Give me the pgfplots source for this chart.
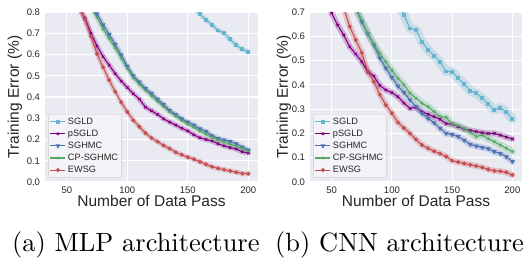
\documentclass[border=0pt]{standalone}
\usepackage{fontspec}
\setsansfont{Liberation Sans}
\newfontfamily\capfont{lmroman10-regular}[Extension=.otf]
\usepackage{pgfplots}
\pgfplotsset{compat=1.18}
\usepackage{pgfplotstable}

\definecolor{cSGLD}{HTML}{64B5CD}
\definecolor{cPSGLD}{HTML}{800080}
\definecolor{cSGHMC}{HTML}{4C72B0}
\definecolor{cCP}{HTML}{55A868}
\definecolor{cEW}{HTML}{C44E52}
\definecolor{bg}{HTML}{EAEAF2}

\pgfplotstableread{
x sgld psgld sghmc cp ewsg
40 1.80 1.20 1.50 1.45 1.25
45 1.70 1.07 1.35 1.30 1.12
50 1.60 0.97 1.20 1.17 1.00
55 1.52 0.88 1.08 1.06 0.90
60 1.45 0.82 0.98 0.96 0.83
65 1.38 0.77 0.90 0.88 0.765
70 1.32 0.70 0.84 0.82 0.685
75 1.26 0.64 0.79 0.775 0.603
80 1.21 0.59 0.74 0.72 0.54
85 1.16 0.55 0.695 0.675 0.48
90 1.12 0.51 0.648 0.63 0.425
95 1.08 0.475 0.598 0.583 0.375
100 1.04 0.445 0.545 0.535 0.33
105 1.01 0.415 0.50 0.49 0.29
110 0.98 0.39 0.47 0.46 0.26
115 0.955 0.352 0.44 0.432 0.23
120 0.935 0.335 0.417 0.405 0.207
125 0.915 0.318 0.39 0.38 0.19
130 0.905 0.297 0.365 0.355 0.172
135 0.893 0.282 0.336 0.33 0.157
140 0.88 0.268 0.318 0.31 0.14
145 0.86 0.253 0.298 0.29 0.128
150 0.84 0.24 0.282 0.272 0.117
155 0.817 0.222 0.268 0.257 0.107
160 0.79 0.208 0.25 0.24 0.095
165 0.763 0.20 0.238 0.225 0.083
170 0.74 0.193 0.218 0.21 0.072
175 0.713 0.18 0.205 0.198 0.064
180 0.70 0.17 0.198 0.188 0.058
185 0.671 0.162 0.19 0.178 0.052
190 0.644 0.155 0.18 0.168 0.046
195 0.624 0.142 0.165 0.158 0.04
200 0.613 0.136 0.15 0.146 0.039
}\mlp

\pgfplotstableread{
x sgld psgld sghmc cp ewsg
40 1.60 0.82 1.00 1.00 0.90
45 1.50 0.75 0.92 0.93 0.84
50 1.42 0.695 0.86 0.87 0.79
55 1.34 0.646 0.81 0.82 0.75
60 1.26 0.605 0.77 0.78 0.715
65 1.18 0.557 0.74 0.75 0.64
70 1.10 0.527 0.715 0.72 0.585
75 1.03 0.495 0.66 0.665 0.532
80 0.97 0.455 0.61 0.612 0.454
85 0.91 0.436 0.565 0.568 0.413
90 0.86 0.397 0.51 0.53 0.36
95 0.81 0.379 0.468 0.495 0.317
100 0.77 0.368 0.43 0.46 0.283
105 0.73 0.351 0.395 0.427 0.245
110 0.688 0.325 0.368 0.40 0.222
115 0.632 0.303 0.338 0.366 0.20
120 0.627 0.307 0.31 0.345 0.175
125 0.578 0.289 0.283 0.324 0.152
130 0.543 0.279 0.262 0.31 0.139
135 0.52 0.269 0.244 0.29 0.127
140 0.493 0.258 0.221 0.27 0.117
145 0.455 0.24 0.20 0.266 0.105
150 0.454 0.238 0.195 0.238 0.088
155 0.427 0.228 0.187 0.232 0.082
160 0.403 0.218 0.172 0.22 0.076
165 0.375 0.212 0.155 0.205 0.071
170 0.365 0.208 0.148 0.187 0.066
175 0.345 0.203 0.142 0.193 0.06
180 0.321 0.20 0.137 0.178 0.052
185 0.296 0.20 0.125 0.166 0.046
190 0.306 0.193 0.117 0.152 0.044
195 0.289 0.185 0.104 0.139 0.04
200 0.259 0.177 0.084 0.125 0.029
}\cnn

\pgfplotsset{
  myax/.style={
    scale only axis, height=170bp,
    xmin=32, xmax=208, ymin=0,
    axis background/.style={fill=bg},
    axis line style={draw=none},
    major tick length=0pt,
    grid=major, grid style={white, line width=1.1bp},
    xtick={50,100,150,200},
    ytick distance=0.1,
    /pgf/number format/assume math mode=true,
    tick label style={font=\fontsize{9.5bp}{11bp}\sffamily, text=black!85},
    xticklabel style={yshift=-1bp},
    yticklabel style={xshift=-1.5bp, /pgf/number format/.cd, fixed, fixed zerofill, precision=1},
    xlabel={Number of Data Pass}, ylabel={Training Error (\%)},
    label style={font=\fontsize{15.5bp}{18bp}\sffamily, text=black!85},
    xlabel style={at={(axis description cs:0.5,0)}, anchor=north, inner sep=0pt, yshift=-13.5bp},
    legend style={at={(0.015,0.025)}, anchor=south west, fill=bg!50!white, draw=black!20,
      rounded corners=2bp, font=\fontsize{9.2bp}{10bp}\sffamily, text=black!85,
      inner sep=1.5bp, row sep=0.2bp},
    legend cell align=left,
    legend image code/.code={\draw[mark repeat=2,mark phase=2,##1] plot coordinates {(0bp,0bp) (7.5bp,0bp) (15bp,0bp)};},
    every axis plot/.append style={line width=1.1bp},
  },
  band/.style={line width=#1, opacity=0.25, line join=round, line cap=round, forget plot, mark=none},
  band/.default=5bp,
  mS/.style={mark=square*, mark size=1.4bp},
  mP/.style={mark=x, mark size=1.7bp, mark options={line width=1bp}},
  mH/.style={mark=triangle*, mark size=1.7bp, mark options={rotate=180}},
  mC/.style={mark=*, mark size=0.9bp},
  mE/.style={mark=*, mark size=1.4bp},
}

\begin{document}
\begin{tikzpicture}
\path[use as bounding box] (0,0) rectangle (525bp,259bp);

\begin{axis}[myax, at={(45bp,77bp)}, anchor=south west, width=213bp, ymax=0.8,
  ylabel style={at={(axis description cs:-0.141,0.5)}, anchor=center}]
\addplot[cSGLD, band] table[x=x,y=sgld] {\mlp};
\addplot[cPSGLD, band] table[x=x,y=psgld] {\mlp};
\addplot[cSGHMC, band] table[x=x,y=sghmc] {\mlp};
\addplot[cCP, band] table[x=x,y=cp] {\mlp};
\addplot[cEW, band] table[x=x,y=ewsg] {\mlp};
\addplot[cSGLD, mS] table[x=x,y=sgld] {\mlp}; \addlegendentry{SGLD}
\addplot[cPSGLD, mP] table[x=x,y=psgld] {\mlp}; \addlegendentry{pSGLD}
\addplot[cSGHMC, mH] table[x=x,y=sghmc] {\mlp}; \addlegendentry{SGHMC}
\addplot[cCP, mC] table[x=x,y=cp] {\mlp}; \addlegendentry{CP-SGHMC}
\addplot[cEW, mE] table[x=x,y=ewsg] {\mlp}; \addlegendentry{EWSG}
\end{axis}

\begin{axis}[myax, at={(310bp,77bp)}, anchor=south west, width=212bp, ymax=0.7,
  ylabel style={at={(axis description cs:-0.123,0.5)}, anchor=center}]
\addplot[cSGLD, band=9bp] table[x=x,y=sgld] {\cnn};
\addplot[cPSGLD, band=6bp] table[x=x,y=psgld] {\cnn};
\addplot[cSGHMC, band=6bp] table[x=x,y=sghmc] {\cnn};
\addplot[cCP, band=7bp] table[x=x,y=cp] {\cnn};
\addplot[cEW, band=6bp] table[x=x,y=ewsg] {\cnn};
\addplot[cSGLD, mS] table[x=x,y=sgld] {\cnn}; \addlegendentry{SGLD}
\addplot[cPSGLD, mP] table[x=x,y=psgld] {\cnn}; \addlegendentry{pSGLD}
\addplot[cSGHMC, mH] table[x=x,y=sghmc] {\cnn}; \addlegendentry{SGHMC}
\addplot[cCP, mC] table[x=x,y=cp] {\cnn}; \addlegendentry{CP-SGHMC}
\addplot[cEW, mE] table[x=x,y=ewsg] {\cnn}; \addlegendentry{EWSG}
\end{axis}

\node[anchor=base west, inner sep=0pt, font=\capfont\fontsize{26.4bp}{30bp}\selectfont] at (12bp,7.3bp) {(a) MLP architecture};
\node[anchor=base west, inner sep=0pt, font=\capfont\fontsize{26.4bp}{30bp}\selectfont] at (275bp,7.3bp) {(b) CNN architecture};
\end{tikzpicture}
\end{document}
